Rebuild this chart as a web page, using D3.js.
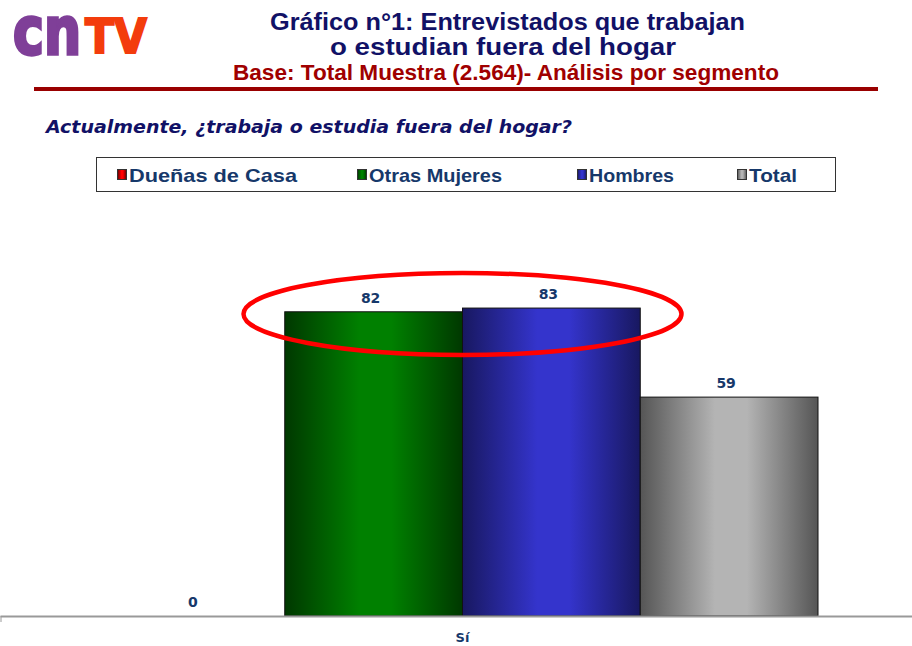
<!DOCTYPE html>
<html><head><meta charset="utf-8">
<script src="https://cdn.jsdelivr.net/npm/d3@7"></script>
<style>body{margin:0;background:#fff}svg{display:block}</style>
</head><body><svg id="c" width="912" height="646"></svg>
<script>
const categories = ["Sí"];
const series = ["Dueñas de Casa", "Otras Mujeres", "Hombres", "Total"];
const values = [0, 82, 83, 59];
const titleLines = ["Gráfico n°1: Entrevistados que trabajan", "o estudian fuera del hogar"];
const baseLine = "Base: Total Muestra (2.564)- Análisis por segmento";
const question = "Actualmente, ¿trabaja o estudia fuera del hogar?";
const colors = [
  {edge:"#600000", mid:"#ff0000"},
  {edge:"#003800", mid:"#008000"},
  {edge:"#181860", mid:"#3434cc"},
  {edge:"#555555", mid:"#b4b4b4"}
];

const svg = d3.select("#c");
const sans = "'Liberation Sans',Arial,sans-serif";
const verd = "'DejaVu Sans',Verdana,sans-serif";
const navy = "#16386a";

// gradients
const defs = svg.append("defs");
colors.forEach((c,i)=>{
  const g = defs.append("linearGradient").attr("id","g"+i).attr("x1","0").attr("x2","1").attr("y1","0").attr("y2","0");
  g.append("stop").attr("offset","0").attr("stop-color",c.edge);
  g.append("stop").attr("offset","0.42").attr("stop-color",c.mid);
  g.append("stop").attr("offset","0.6").attr("stop-color",c.mid);
  g.append("stop").attr("offset","1").attr("stop-color",c.edge);
});

// logo
svg.append("g").attr("transform","translate(13,54) scale(1,1.3)")
  .append("text").attr("x",0).attr("y",0).attr("font-family",verd)
  .attr("font-weight","bold").attr("font-size",50).attr("fill","#7f3f98")
  .attr("stroke","#7f3f98").attr("stroke-width",2.5)
  .attr("textLength",68).attr("lengthAdjust","spacingAndGlyphs").text("cn");
svg.append("text").attr("x",85).attr("y",53).attr("font-family",verd)
  .attr("font-weight","bold").attr("font-size",48).attr("fill","#f33c0c")
  .attr("stroke","#f33c0c").attr("stroke-width",2)
  .attr("textLength",62).attr("lengthAdjust","spacingAndGlyphs").text("TV");

function fitText(x, yy, txt, size, color, w) {
  return svg.append("text").attr("x",x).attr("y",yy).attr("font-family",sans)
    .attr("font-weight","bold").attr("font-size",size).attr("fill",color)
    .attr("textLength",w).attr("lengthAdjust","spacingAndGlyphs").text(txt);
}
// titles
fitText(270, 30, titleLines[0], 24, "#111166", 475);
fitText(330, 55, titleLines[1], 24, "#111166", 346);
fitText(233, 80, baseLine, 22, "#a00000", 546);
svg.append("rect").attr("x",34).attr("y",87).attr("width",844).attr("height",4).attr("fill","#990000");

svg.append("text").attr("x",46).attr("y",133).attr("font-family",verd).attr("font-style","italic")
  .attr("font-weight","bold").attr("font-size",18).attr("fill","#111166")
  .attr("textLength",526).attr("lengthAdjust","spacingAndGlyphs").text(question);

// legend
svg.append("rect").attr("x",96.5).attr("y",157.5).attr("width",739).attr("height",34)
  .attr("fill","#fff").attr("stroke","#333").attr("stroke-width",1);
const legX = [117, 357, 577, 737];
const legW = [168, 133, 85, 48];
series.forEach((s,i)=>{
  svg.append("rect").attr("x",legX[i]+0.5).attr("y",169.5).attr("width",9).attr("height",10)
    .attr("fill","url(#g"+i+")").attr("stroke","#333").attr("stroke-width",1);
  fitText(legX[i]+12, 182, s, 19, navy, legW[i]);
});

// scales
const y = d3.scaleLinear().domain([0,100]).range([616,245]);
const x0 = d3.scaleBand().domain(categories).range([0,925]).paddingInner(0).paddingOuter(0);
const x1 = d3.scaleBand().domain(series).range([107,818]).padding(0);

const g = svg.append("g");
categories.forEach(cat=>{
  series.forEach((s,i)=>{
    const v = values[i];
    if (v>0) {
      g.append("rect").attr("x",x1(s)).attr("y",y(v)).attr("width",x1.bandwidth()).attr("height",y(0)-y(v))
        .attr("fill","url(#g"+i+")").attr("stroke","#111").attr("stroke-width",1);
    }
    g.append("text").attr("x",x1(s)+x1.bandwidth()/2-3).attr("y",y(v)-9).attr("text-anchor","middle")
      .attr("font-family",verd).attr("font-weight","bold").attr("font-size",14).attr("fill",navy).text(v);
  });
});

// axis
const ax = svg.append("g").attr("transform","translate(0,616)")
  .call(d3.axisBottom(x0).tickSize(0).tickFormat(""));
ax.select(".domain").attr("stroke","#999").attr("stroke-width",2);
svg.append("line").attr("x1",1).attr("x2",1).attr("y1",616).attr("y2",622).attr("stroke","#999");
svg.append("text").attr("x",x1.range()[0]+ (x1.range()[1]-x1.range()[0])/2).attr("y",642).attr("text-anchor","middle")
  .attr("font-family",verd).attr("font-weight","bold").attr("font-size",13).attr("fill",navy).text(categories[0]);

// ellipse highlight
svg.append("ellipse").attr("cx",(x1("Otras Mujeres")+x1("Hombres")+x1.bandwidth())/2).attr("cy",314)
  .attr("rx",219).attr("ry",41).attr("fill","none").attr("stroke","#ff0000").attr("stroke-width",4.5);
</script></body></html>
